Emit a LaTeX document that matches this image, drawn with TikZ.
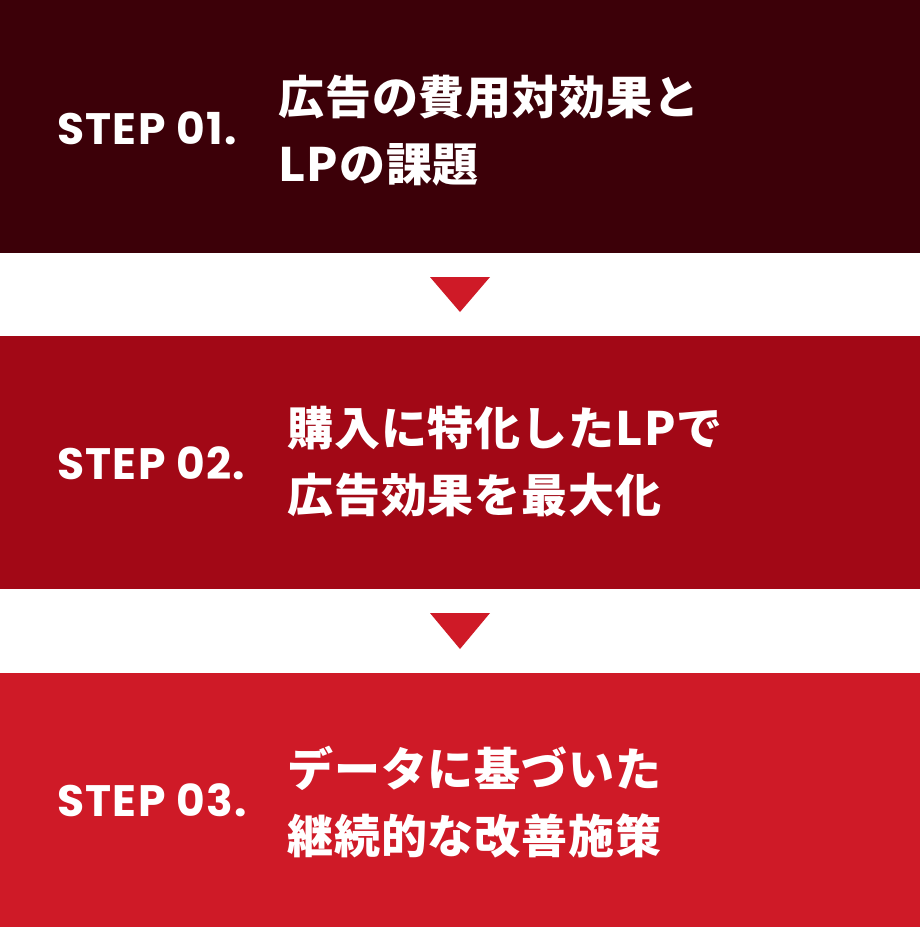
\documentclass[tikz,border=0pt]{standalone}
\usepackage{fontspec}
\newfontfamily\stepfont[LetterSpace=3]{Poppins}
\newfontfamily\jpfont[LetterSpace=2]{Noto Sans CJK JP}
\definecolor{bandA}{RGB}{60,0,8}
\definecolor{bandB}{RGB}{162,8,22}
\definecolor{bandC}{RGB}{207,26,39}
\tikzset{
  steplabel/.style={anchor=west,inner sep=0pt,text=white,font=\stepfont\bfseries\fontsize{44}{50}\selectfont},
  jplabel/.style={anchor=west,inner sep=0pt,text=white,align=left,font=\jpfont\bfseries\fontsize{46}{67}\selectfont},
  tri/.style={fill=bandC,draw=none}
}
\begin{document}
\begin{tikzpicture}[x=1pt,y=-1pt]
\useasboundingbox (0,0) rectangle (920,927);
\fill[white] (0,0) rectangle (920,927);
\fill[bandA] (0,0) rectangle (920,253);
\fill[bandB] (0,336) rectangle (920,589);
\fill[bandC] (0,673) rectangle (920,927);
\fill[tri] (430,277) -- (490,277) -- (460,312) -- cycle;
\fill[tri] (430,613) -- (490,613) -- (460,649) -- cycle;
\node[steplabel] (s1) at (57,128) {STEP 01.};
\node[jplabel] (j1) at (278,131) {広告の費用対効果と\\LPの課題};
\node[steplabel] (s2) at (57,463) {STEP 02.};
\node[jplabel] (j2) at (287,462) {購入に特化したLPで\\広告効果を最大化};
\node[steplabel] (s3) at (57,800) {STEP 03.};
\node[jplabel] (j3) at (287,802) {データに基づいた\\継続的な改善施策};
\end{tikzpicture}
\end{document}
